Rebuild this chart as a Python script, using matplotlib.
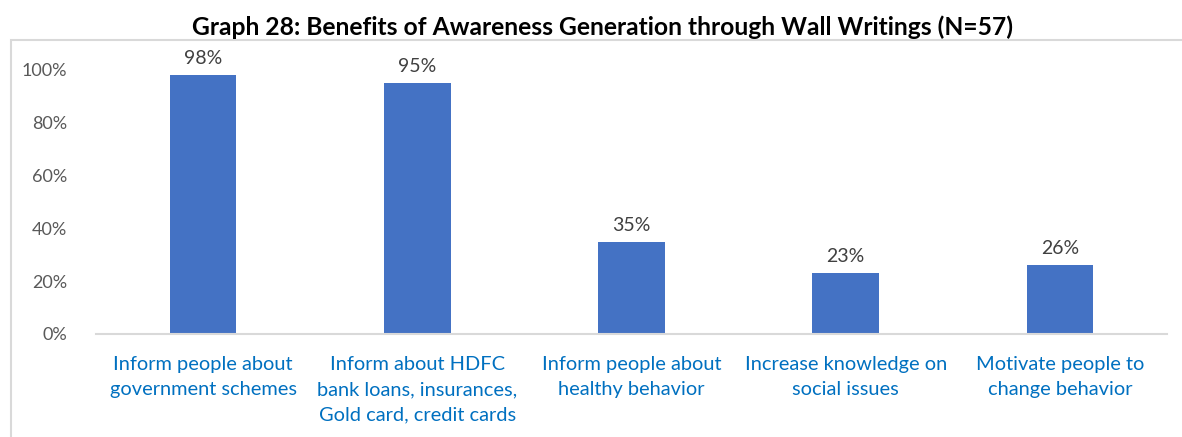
import matplotlib.pyplot as plt
from matplotlib.patches import Rectangle

# Datos del gráfico
categorias = [
    "Inform people about\ngovernment schemes",
    "Inform about HDFC\nbank loans, insurances,\nGold card, credit cards",
    "Inform people about\nhealthy behavior",
    "Increase knowledge on\nsocial issues",
    "Motivate people to\nchange behavior",
]
porcentajes = [98, 95, 35, 23, 26]
ticks_y = [0, 20, 40, 60, 80, 100]

plt.rcParams['font.family'] = ['Lato', 'DejaVu Sans']

fig = plt.figure(figsize=(11.82, 4.37), dpi=100)

# Marco gris del área del gráfico
marco = Rectangle((11 / 1182, -0.05), 1.2, 1 - 40 / 437 + 0.05, transform=fig.transFigure,
                  fill=False, edgecolor='#D9D9D9', linewidth=1.5)
fig.patches.append(marco)

ax = fig.add_axes([96 / 1182, 1 - 334 / 437, 1071 / 1182, 264 / 437])
x = range(len(categorias))
ax.bar(x, porcentajes, width=0.31, color='#4472C4')

for xi, v in zip(x, porcentajes):
    ax.text(xi, v + 3, f"{v}%", ha='center', va='bottom', fontsize=14, color='#404040')

ax.set_xlim(-0.5, len(categorias) - 0.5)
ax.set_ylim(0, 100)
ax.set_yticks(ticks_y)
ax.set_yticklabels([f"{t}%" for t in ticks_y], fontsize=13, color='#595959')
ax.set_xticks(list(x))
ax.set_xticklabels(categorias, fontsize=14.4, color='#0070C0', linespacing=1.56)
ax.tick_params(axis='both', length=0)
ax.tick_params(axis='y', pad=21)
ax.tick_params(axis='x', pad=16)

for lado in ['top', 'right', 'left']:
    ax.spines[lado].set_visible(False)
ax.spines['bottom'].set_color('#D9D9D9')
ax.spines['bottom'].set_linewidth(1.5)

fig.text(602 / 1182, 1 - 27 / 437, "Graph 28: Benefits of Awareness Generation through Wall Writings (N=57)",
         ha='center', va='center', fontsize=17.7, fontweight='bold', color='black')

plt.savefig('out.png', dpi=100)
plt.close()
